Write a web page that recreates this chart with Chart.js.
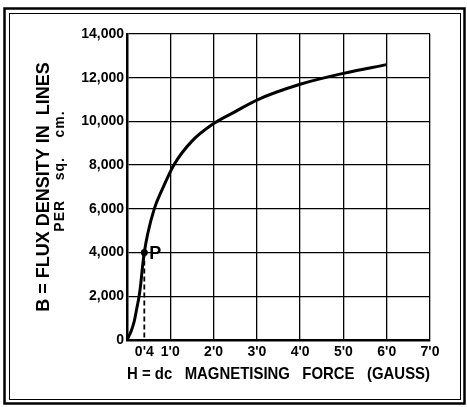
<!DOCTYPE html>
<html>
<head>
<meta charset="utf-8">
<script src="https://cdn.jsdelivr.net/npm/chart.js@4/dist/chart.umd.min.js"></script>
<style>
  body { margin: 0; background: #fff; }
  #wrap { width: 467px; height: 407px; position: relative; }
</style>
</head>
<body>
<div id="wrap"><canvas id="bh" width="467" height="407"></canvas></div>
<script>
// curva B-H
const hValues = [0, 0.1, 0.17, 0.23, 0.28, 0.32, 0.35, 0.4, 0.48, 0.63, 0.8, 1.08, 1.5, 2.0, 2.5, 3.0, 4.0, 5.0, 6.0];
const bValues = [0, 420, 880, 1490, 2000, 2600, 3200, 4000, 4870, 6000, 6830, 8000, 9100, 9900, 10450, 10980, 11700, 12200, 12600];

// punto P y su proyeccion
const pointP = { h: 0.4, b: 4000 };

const xTicks = [0.4, 1, 2, 3, 4, 5, 6, 7];
const xTickLabels = ["0'4", "1'0", "2'0", "3'0", "4'0", "5'0", "6'0", "7'0"];

const FONT = 'Liberation Sans, Arial, sans-serif';

// marco doble alrededor de todo
const framePlugin = {
    id: 'frame',
    afterDraw(chart) {
        const ctx = chart.ctx;
        ctx.save();
        ctx.strokeStyle = '#000';
        ctx.lineWidth = 2.5;
        ctx.strokeRect(4.5, 8.5, 460, 395);
        ctx.lineWidth = 1;
        ctx.strokeRect(9.5, 13.5, 451, 386);
        ctx.restore();
    }
};

// etiqueta "P" y segunda linea del titulo del eje Y
const labelsPlugin = {
    id: 'labels',
    afterDatasetsDraw(chart) {
        const { ctx, scales: { x, y } } = chart;
        ctx.save();
        ctx.fillStyle = '#000';
        ctx.font = 'bold 18px ' + FONT;
        ctx.textBaseline = 'middle';
        ctx.fillText('P', x.getPixelForValue(pointP.h) + 5, y.getPixelForValue(pointP.b) + 1);

        ctx.translate(60, 171);
        ctx.rotate(-Math.PI / 2);
        ctx.font = 'bold 14px ' + FONT;
        ctx.letterSpacing = '1px';
        ctx.textAlign = 'center';
        ctx.fillText('PER    sq.    cm.', 0, 0);
        ctx.restore();
    }
};

const ctx = document.getElementById('bh').getContext('2d');
new Chart(ctx, {
    type: 'line',
    data: {
        datasets: [
            {
                data: hValues.map((h, i) => ({ x: h, y: bValues[i] })),
                borderColor: '#000',
                borderWidth: 3,
                pointRadius: 0,
                cubicInterpolationMode: 'monotone',
                fill: false
            },
            {
                data: [{ x: pointP.h, y: pointP.b }, { x: pointP.h, y: 0 }],
                borderColor: '#000',
                borderWidth: 1.8,
                borderDash: [5, 3],
                pointRadius: [3.5, 0],
                pointBackgroundColor: '#000',
                pointBorderWidth: 0,
                fill: false
            }
        ]
    },
    options: {
        responsive: false,
        devicePixelRatio: 1,
        animation: false,
        layout: { padding: { left: 0, top: 34, right: 37, bottom: 0 } },
        plugins: {
            legend: { display: false },
            tooltip: { enabled: false }
        },
        scales: {
            x: {
                type: 'linear',
                min: 0,
                max: 7,
                afterFit(scale) { scale.height = 67; },
                afterBuildTicks(scale) { scale.ticks = xTicks.map(v => ({ value: v })); },
                ticks: {
                    color: '#000',
                    font: { family: FONT, size: 14, weight: 'bold' },
                    padding: 4,
                    maxRotation: 0,
                    autoSkip: false,
                    callback: (v) => xTickLabels[xTicks.indexOf(v)]
                },
                grid: {
                    drawTicks: false,
                    color: (c) => (c.tick && c.tick.value === 0.4) ? 'rgba(0,0,0,0)' : '#000',
                    lineWidth: 1.3
                },
                border: { color: '#000', width: 2.5 },
                title: {
                    display: true,
                    text: 'H = dc   MAGNETISING   FORCE   (GAUSS)',
                    color: '#000',
                    font: { family: FONT, size: 17, weight: 'bold', lineHeight: 1.2 },
                    padding: { top: 0, bottom: 22 }
                }
            },
            y: {
                min: 0,
                max: 14000,
                afterFit(scale) { scale.width = 127; },
                ticks: {
                    stepSize: 2000,
                    color: '#000',
                    font: { family: FONT, size: 14, weight: 'bold' },
                    padding: 3,
                    callback: (v) => v.toLocaleString('en-US')
                },
                grid: { drawTicks: false, color: '#000', lineWidth: 1.3 },
                border: { color: '#000', width: 2.5 },
                title: {
                    display: true,
                    text: 'B = FLUX DENSITY IN  LINES',
                    color: '#000',
                    font: { family: FONT, size: 18, weight: 'bold', lineHeight: 1.2 },
                    padding: { top: 33, bottom: 0 }
                }
            }
        }
    },
    plugins: [framePlugin, labelsPlugin]
});
</script>
</body>
</html>
